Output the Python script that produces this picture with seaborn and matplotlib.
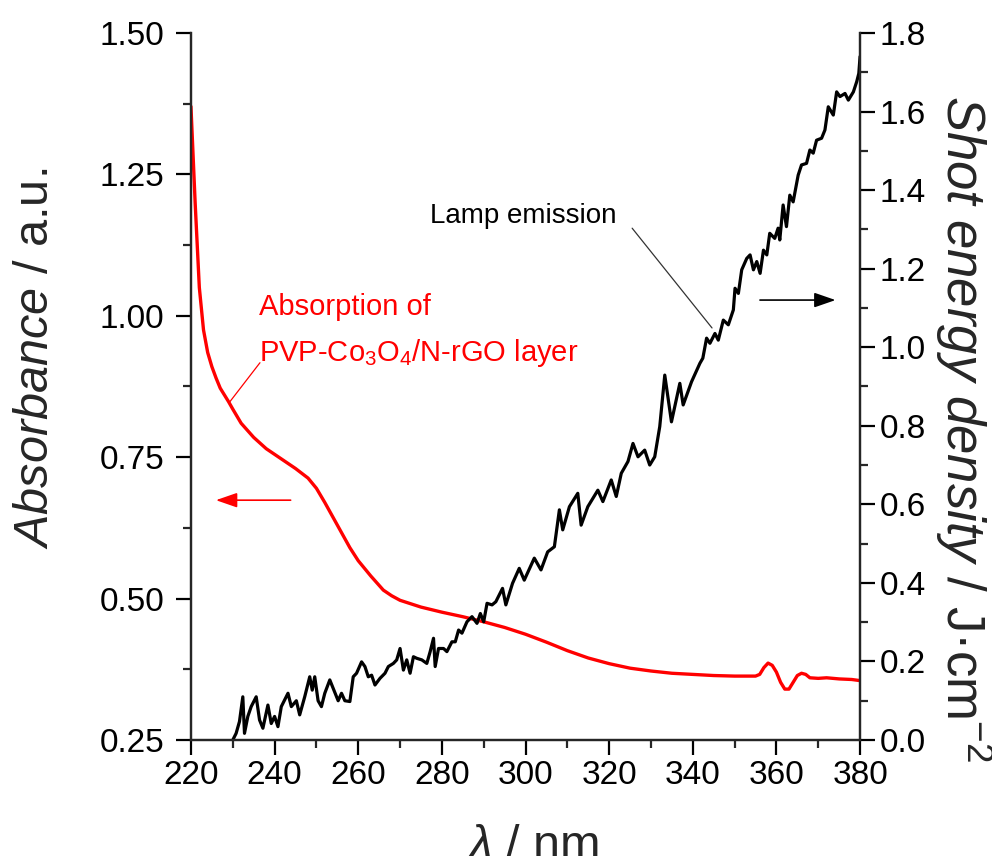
import matplotlib
matplotlib.use('Agg')
import matplotlib.pyplot as plt
from matplotlib.ticker import MultipleLocator
import seaborn as sns
import pandas as pd

# absorption spectrum of the layer (left axis)
abs_nm = [220, 221, 222, 223, 224, 225, 226, 227, 228, 229, 230, 232, 235, 238, 240, 242, 245, 248, 250,
          252, 255, 258, 260, 263, 266, 268, 270, 275, 280, 285, 290, 295, 300, 305, 310, 315, 320, 325,
          330, 335, 340, 345, 350, 355, 356, 357, 358, 359, 360, 361, 362, 363, 364, 365, 366, 367, 368,
          370, 372, 375, 378, 380]
abs_val = [1.37, 1.20, 1.05, 0.975, 0.935, 0.91, 0.89, 0.872, 0.86, 0.848, 0.835, 0.81, 0.785, 0.765, 0.755,
           0.745, 0.73, 0.713, 0.695, 0.67, 0.63, 0.59, 0.567, 0.54, 0.515, 0.505, 0.497, 0.485, 0.476,
           0.468, 0.459, 0.449, 0.437, 0.423, 0.408, 0.395, 0.385, 0.377, 0.372, 0.368, 0.366, 0.364,
           0.363, 0.363, 0.366, 0.378, 0.386, 0.382, 0.37, 0.352, 0.34, 0.34, 0.352, 0.364, 0.368, 0.366,
           0.36, 0.359, 0.36, 0.358, 0.357, 0.355]

# lamp emission (right axis)
lamp_nm = [230.0, 230.8, 231.6, 232.4, 232.8, 233.6, 234.4, 235.6, 236.4, 237.2, 238.4, 239.2, 240.0, 240.8,
           241.6, 243.2, 244.0, 245.2, 246.0, 247.2, 248.4, 249.0, 249.6, 250.4, 251.2, 252.0, 253.2, 254.0,
           255.2, 256.0, 256.8, 258.0, 258.8, 259.6, 260.8, 261.6, 262.4, 263.2, 264.0, 265.2, 266.4, 267.2,
           268.4, 269.2, 270.0, 270.8, 271.6, 272.4, 273.2, 274.0, 275.2, 276.4, 277.2, 278.0, 278.4, 279.2,
           280.4, 281.2, 282.4, 283.2, 284.0, 284.8, 286.0, 287.2, 288.4, 289.2, 290.0, 290.8, 292.0, 292.9,
           294.5, 295.3, 296.9, 298.5, 299.7, 302.1, 303.7, 305.3, 306.9, 308.1, 308.9, 310.5, 312.5, 313.3,
           314.9, 317.3, 318.5, 320.5, 321.7, 322.9, 324.5, 325.7, 326.9, 328.5, 329.7, 330.9, 332.1, 333.3,
           334.9, 336.9, 337.7, 339.7, 341.7, 342.4, 343.3, 344.1, 345.3, 346.1, 347.3, 348.5, 349.7, 350.1,
           350.9, 351.7, 352.9, 353.7, 354.5, 355.3, 356.1, 356.9, 357.7, 358.4, 359.6, 360.4, 360.8, 361.6,
           362.4, 363.2, 364.0, 365.2, 366.0, 367.2, 368.0, 368.8, 369.6, 370.8, 371.6, 372.4, 373.6, 374.4,
           375.2, 376.4, 377.2, 378.4, 379.2, 379.7, 380.0]
lamp_val = [0.0, 0.017, 0.047, 0.11, 0.017, 0.06, 0.085, 0.11, 0.051, 0.03, 0.089, 0.042, 0.06, 0.034,
            0.085, 0.119, 0.085, 0.10, 0.064, 0.11, 0.161, 0.127, 0.161, 0.10, 0.085, 0.119, 0.153, 0.132,
            0.10, 0.119, 0.10, 0.098, 0.161, 0.17, 0.199, 0.187, 0.161, 0.165, 0.14, 0.157, 0.17, 0.187,
            0.195, 0.204, 0.233, 0.178, 0.204, 0.17, 0.212, 0.208, 0.204, 0.195, 0.225, 0.259, 0.187, 0.233,
            0.233, 0.225, 0.25, 0.25, 0.28, 0.272, 0.301, 0.314, 0.297, 0.322, 0.301, 0.348, 0.344, 0.352,
            0.386, 0.344, 0.399, 0.437, 0.407, 0.463, 0.433, 0.479, 0.492, 0.586, 0.535, 0.594, 0.628, 0.547,
            0.594, 0.636, 0.607, 0.662, 0.62, 0.679, 0.709, 0.755, 0.721, 0.738, 0.70, 0.721, 0.798, 0.929,
            0.81, 0.908, 0.853, 0.912, 0.959, 0.972, 1.023, 1.01, 1.035, 1.018, 1.069, 1.057, 1.095, 1.15,
            1.137, 1.197, 1.226, 1.235, 1.197, 1.218, 1.188, 1.247, 1.235, 1.29, 1.277, 1.303, 1.273, 1.362,
            1.307, 1.387, 1.37, 1.438, 1.464, 1.468, 1.502, 1.494, 1.527, 1.532, 1.553, 1.612, 1.591, 1.65,
            1.638, 1.646, 1.629, 1.65, 1.676, 1.697, 1.74]

abs_df = pd.DataFrame({'nm': abs_nm, 'absorbance': abs_val})
lamp_df = pd.DataFrame({'nm': lamp_nm, 'energy': lamp_val})

sns.set_style('ticks')
plt.rcParams['font.family'] = ['Liberation Sans', 'DejaVu Sans']
plt.rcParams['mathtext.fontset'] = 'custom'
plt.rcParams['mathtext.rm'] = 'Liberation Sans'
plt.rcParams['mathtext.it'] = 'Liberation Sans:italic'
plt.rcParams['axes.linewidth'] = 1.6

fig = plt.figure(figsize=(9.92, 8.56), dpi=100)
ax = fig.add_axes([0.1925, 0.1355, 0.6745, 0.826])
ax2 = ax.twinx()

sns.lineplot(data=abs_df, x='nm', y='absorbance', ax=ax, color='#ff0000', linewidth=2.4)
sns.lineplot(data=lamp_df, x='nm', y='energy', ax=ax2, color='black', linewidth=2.3)

ax.set_xlim(220, 380)
ax.set_ylim(0.25, 1.50)
ax2.set_ylim(0.0, 1.8)

ax.xaxis.set_major_locator(MultipleLocator(20))
ax.xaxis.set_minor_locator(MultipleLocator(10))
ax.yaxis.set_major_locator(MultipleLocator(0.25))
ax.yaxis.set_minor_locator(MultipleLocator(0.125))
ax2.yaxis.set_major_locator(MultipleLocator(0.2))
ax2.yaxis.set_minor_locator(MultipleLocator(0.1))
ax.yaxis.set_major_formatter(matplotlib.ticker.FormatStrFormatter('%.2f'))
ax2.yaxis.set_major_formatter(matplotlib.ticker.FormatStrFormatter('%.1f'))

for a in (ax, ax2):
    a.tick_params(which='major', direction='out', length=11, width=1.6, labelsize=24, colors='black')
    a.tick_params(which='minor', direction='out', length=6, width=1.6)
    a.spines['top'].set_visible(False)
ax.tick_params(axis='y', pad=8)
ax2.tick_params(axis='y', pad=3)

ax.set_ylabel(r'$\mathit{Absorbance}$ / a.u.', fontsize=35, labelpad=30)
ax.yaxis.label.set_y(0.539)
ax2.set_ylabel(r'$\mathit{Shot\ energy\ density}$ / J·cm$^{-2}$', fontsize=38, rotation=270, labelpad=49)
ax2.yaxis.label.set_y(0.44)
ax.set_xlabel(r'$\lambda$ / nm', fontsize=35)
ax.xaxis.set_label_coords(0.51, -0.168)
ax.xaxis.label.set_verticalalignment('baseline')

# annotations
ax2.text(277.2, 1.334, 'Lamp emission', fontsize=20, color='black', va='center', ha='left')
ax2.plot([325.5, 344.6], [1.303, 1.049], color='#333333', linewidth=0.9)
ax2.annotate('', xy=(374.8, 1.12), xytext=(355.4, 1.12),
             arrowprops=dict(arrowstyle='-|>,head_length=1.3,head_width=0.45', color='black', lw=1.2))

ax.text(236.3, 1.015, 'Absorption of', fontsize=21, color='#ff0000', va='center', ha='left')
ax.text(236.3, 0.935, r'PVP-Co$_3$O$_4$/N-rGO layer', fontsize=21, color='#ff0000', va='center', ha='left')
ax.plot([236.5, 229.3], [0.917, 0.848], color='#ff0000', linewidth=0.9)
ax.annotate('', xy=(225.3, 0.674), xytext=(244.5, 0.674),
            arrowprops=dict(arrowstyle='-|>,head_length=1.3,head_width=0.45', color='#ff0000', lw=1.2))

fig.savefig('out.png', dpi=100)
